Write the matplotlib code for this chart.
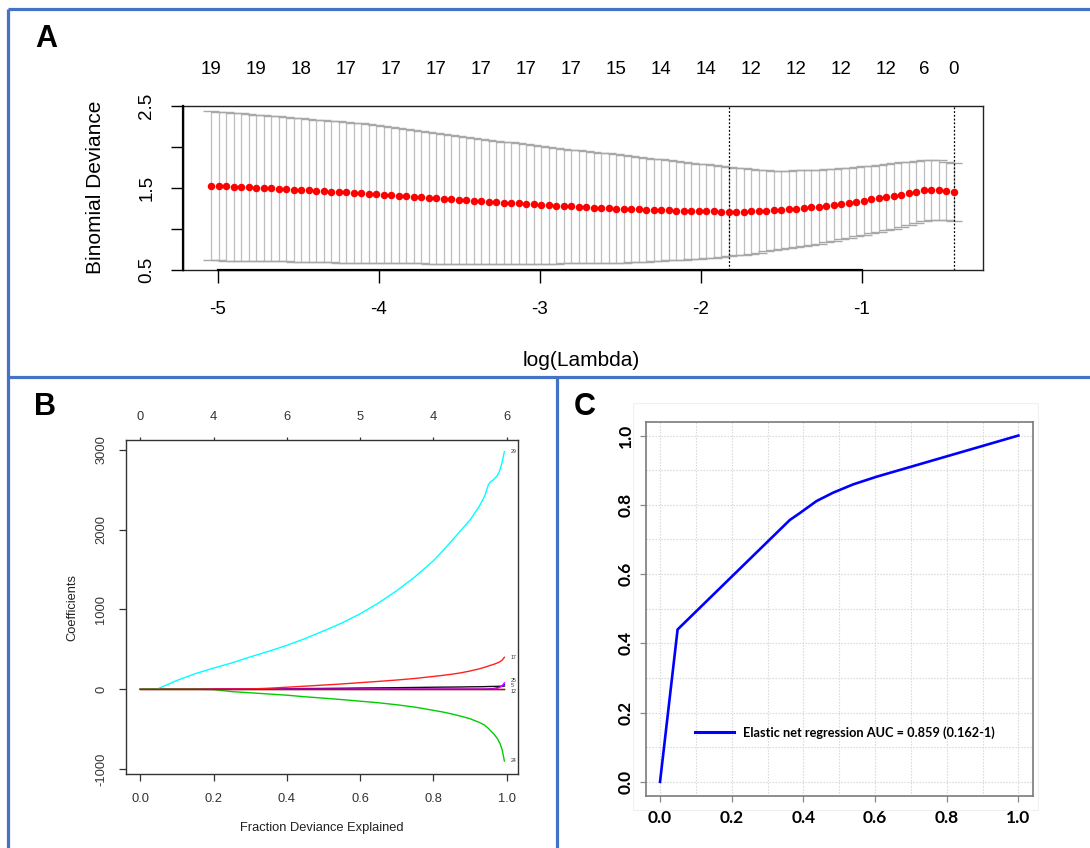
import numpy as np
import matplotlib
matplotlib.use("Agg")
import matplotlib.pyplot as plt
from matplotlib.patches import Rectangle
from matplotlib.lines import Line2D
import matplotlib.transforms as mtransforms

# ---------------- data: panel A (cv.glmnet) ----------------
log_lambda = np.linspace(-5.043, -0.429, 100)
cv_mean = [1.528, 1.524, 1.520, 1.516, 1.512, 1.508, 1.503, 1.499, 1.494, 1.490,
           1.485, 1.481, 1.476, 1.471, 1.466, 1.461, 1.456, 1.451, 1.446, 1.441,
           1.436, 1.430, 1.424, 1.418, 1.412, 1.405, 1.399, 1.392, 1.386, 1.379,
           1.373, 1.367, 1.361, 1.355, 1.349, 1.343, 1.338, 1.332, 1.327, 1.322,
           1.316, 1.311, 1.306, 1.300, 1.295, 1.290, 1.285, 1.280, 1.275, 1.271,
           1.266, 1.262, 1.258, 1.254, 1.250, 1.246, 1.243, 1.239, 1.236, 1.233,
           1.230, 1.227, 1.225, 1.222, 1.220, 1.218, 1.216, 1.214, 1.213, 1.211,
           1.212, 1.213, 1.215, 1.218, 1.222, 1.227, 1.233, 1.240, 1.247, 1.255,
           1.263, 1.272, 1.282, 1.293, 1.305, 1.318, 1.332, 1.346, 1.360, 1.374,
           1.389, 1.404, 1.420, 1.437, 1.453, 1.470, 1.477, 1.474, 1.462, 1.447]
cv_sd = [0.910, 0.908, 0.905, 0.902, 0.899, 0.896, 0.893, 0.890, 0.887, 0.884,
         0.881, 0.878, 0.875, 0.872, 0.869, 0.866, 0.863, 0.860, 0.857, 0.854,
         0.851, 0.846, 0.840, 0.834, 0.828, 0.822, 0.816, 0.810, 0.805, 0.800,
         0.794, 0.789, 0.783, 0.778, 0.772, 0.767, 0.761, 0.756, 0.750, 0.745,
         0.739, 0.734, 0.728, 0.723, 0.717, 0.712, 0.706, 0.700, 0.694, 0.689,
         0.683, 0.678, 0.672, 0.667, 0.661, 0.656, 0.650, 0.642, 0.634, 0.626,
         0.618, 0.611, 0.603, 0.595, 0.587, 0.580, 0.572, 0.563, 0.554, 0.545,
         0.535, 0.525, 0.515, 0.505, 0.495, 0.485, 0.479, 0.473, 0.467, 0.462,
         0.457, 0.451, 0.445, 0.439, 0.433, 0.427, 0.421, 0.417, 0.413, 0.409,
         0.405, 0.400, 0.393, 0.386, 0.378, 0.370, 0.366, 0.362, 0.358, 0.355]
nz_index = [0, 6, 12, 18, 24, 30, 36, 42, 48, 54, 60, 66, 72, 78, 84, 90, 95, 99]
nz_labels = ["19", "19", "18", "17", "17", "17", "17", "17", "17", "15",
             "14", "14", "12", "12", "12", "12", "6", "0"]
idx_min, idx_1se = 69, 99
a_xticks = [-5, -4, -3, -2, -1]
a_yticks = [0.5, 1.0, 1.5, 2.0, 2.5]
a_yticklabels = ["0.5", "", "1.5", "", "2.5"]

# ---------------- data: panel B (coefficient paths) ----------------
frac_dev = [0, 0.045, 0.1, 0.15, 0.2, 0.25, 0.3, 0.35, 0.4, 0.45,
            0.5, 0.55, 0.6, 0.65, 0.7, 0.75, 0.8, 0.825, 0.85, 0.875,
            0.9, 0.925, 0.94, 0.95, 0.955, 0.965, 0.975, 0.982, 0.988, 0.994]
coef_29 = [0, 0, 110, 195, 265, 330, 405, 475, 550, 635,
           730, 830, 945, 1080, 1235, 1410, 1610, 1730, 1860, 1990,
           2120, 2290, 2420, 2560, 2595, 2630, 2680, 2750, 2850, 2980]
coef_17 = [0, 0, 0, 0, 0, 0, 3, 12, 25, 38,
           52, 66, 82, 98, 115, 135, 160, 173, 188, 205,
           228, 255, 275, 290, 298, 312, 330, 345, 365, 400]
coef_24 = [0, 0, 0, 0, -5, -30, -45, -60, -75, -95,
           -112, -130, -150, -170, -195, -225, -265, -285, -310, -338,
           -370, -415, -450, -490, -515, -560, -620, -680, -760, -900]
coef_blk = [0, 0, 0, 0, 0, 0, 0, 2, 5, 8,
            10, 12, 15, 17, 19, 22, 25, 26, 27, 28,
            30, 31, 32, 34, 34, 35, 36, 37, 38, 40]
coef_blue = [0, 0, 0, 0, 0, 0, 0, 0, 0, 0,
             0, 0, 0, 0, 0, 0, 0, 0, 0, 0,
             0, 0, 0, 2, 4, 8, 18, 28, 42, 60]
coef_mag = [0, 0, 0, 0, 0, 0, 0, 0, 0, 0,
            0, 0, 0, 0, 0, 0, 0, 0, 0, 0,
            0, 0, 0, 0, 0, 3, 12, 25, 45, 80]
coef_zero = [0] * len(frac_dev)
b_top_ticks = [0.0, 0.2, 0.4, 0.6, 0.8, 1.0]
b_top_labels = ["0", "4", "6", "5", "4", "6"]
b_end_labels = ["29", "17", "24", "25", "5", "12"]
b_end_values = [2980, 400, -900, 115, 45, -25]

# ---------------- data: panel C (ROC) ----------------
fpr = [0.0, 0.049, 0.362, 0.390, 0.437, 0.483, 0.539, 0.604, 1.0]
tpr = [0.0, 0.440, 0.756, 0.776, 0.811, 0.835, 0.859, 0.881, 1.0]
roc_label = "Elastic net regression AUC = 0.859 (0.162-1)"
c_ticks = [0.0, 0.2, 0.4, 0.6, 0.8, 1.0]
c_grid = [0.0, 0.1, 0.2, 0.3, 0.4, 0.5, 0.6, 0.7, 0.8, 0.9, 1.0]

# ---------------- figure ----------------
W, H = 1090, 848
DPI = 100
fig = plt.figure(figsize=(W / DPI, H / DPI), dpi=DPI)
fig.patch.set_facecolor("white")
RS = "Liberation Sans"
BOLD = "Lato"


def rect(l, t, r, b):
    return [l / W, 1 - b / H, (r - l) / W, (b - t) / H]


# panel borders
blue = "#4472C4"
bw = 2.3
for (x0, y0, x1, y1) in [(8, 9, 1090, 9), (8, 9, 8, 848), (8, 377, 1090, 377), (557, 377, 557, 848)]:
    fig.add_artist(Line2D([x0 / W, x1 / W], [1 - y0 / H, 1 - y1 / H], color=blue, lw=bw,
                          transform=fig.transFigure, solid_capstyle="butt"))

# panel letters
for s, (px, py) in zip(["A", "B", "C"], [(46, 39), (45, 407), (585, 407)]):
    fig.text(px / W, 1 - py / H, s, fontsize=22, fontweight="bold", family="Liberation Sans",
             ha="center", va="center")

# ================= Panel A =================
axA = fig.add_axes(rect(183, 106, 983, 270))
x = np.asarray(log_lambda)
m = np.asarray(cv_mean)
sd = np.asarray(cv_sd)
up, lo = m + sd, m - sd
barw = (x.max() - x.min()) * 0.0105
axA.vlines(x, lo, up, color="#bdbdbd", lw=0.9, zorder=1)
axA.hlines(up, x - barw, x + barw, color="#a8a8a8", lw=1.0, zorder=1)
axA.hlines(lo, x - barw, x + barw, color="#a8a8a8", lw=1.0, zorder=1)
axA.plot(x, m, "o", color="#ff0000", ms=5.4, mec="none", zorder=3)
for i in (idx_min, idx_1se):
    axA.axvline(x[i], color="black", lw=0.9, ls=(0, (1.5, 1.5)), zorder=2)
axA.set_xlim(-5.217, -0.248)
axA.set_ylim(0.5, 2.5)
axA.set_xticks(a_xticks)
axA.set_xticklabels([str(v) for v in a_xticks])
axA.set_yticks(a_yticks)
axA.set_yticklabels(a_yticklabels)
axA.tick_params(axis="x", length=9, width=1, pad=13.5, labelsize=13.5)
axA.tick_params(axis="y", length=9, width=1, pad=11, labelsize=13.5, labelrotation=90)
for lab in axA.get_yticklabels():
    lab.set_va("center")
    lab.set_family(RS)
for lab in axA.get_xticklabels():
    lab.set_family(RS)
for sp in axA.spines.values():
    sp.set_linewidth(1.0)
    sp.set_color("#222222")
axA.plot([a_xticks[0], a_xticks[-1]], [0.5, 0.5], color="black", lw=1.6, clip_on=False, zorder=4)
axA.plot([axA.get_xlim()[0]] * 2, [0.5, 2.5], color="black", lw=1.6, clip_on=False, zorder=4)
trA = mtransforms.blended_transform_factory(axA.transData, axA.transAxes)
for i, s in zip(nz_index, nz_labels):
    axA.text(x[i], 1.2256, s, transform=trA, ha="center", va="center", fontsize=13.5, family=RS)
axA.set_xlabel("log(Lambda)", fontsize=15, family=RS)
axA.set_ylabel("Binomial Deviance", fontsize=15, family=RS)
axA.xaxis.set_label_coords(0.4975, -0.549)
axA.xaxis.label.set_va("center")
axA.yaxis.set_label_coords(-0.109, 0.506)
axA.yaxis.label.set_va("center")

# ================= Panel B =================
axB = fig.add_axes(rect(125.7, 440, 518.3, 774.3))
fd = np.asarray(frac_dev)
for ys, c in [(coef_zero, "#555555"), (coef_blk, "#111111"), (coef_blue, "#0000ff"),
              (coef_mag, "#ff00ff"), (coef_29, "#00ffff"), (coef_17, "#ff2020"),
              (coef_24, "#00cd00")]:
    axB.plot(fd, ys, color=c, lw=1.0)
axB.plot(fd, coef_zero, color="#dd0000", lw=1.0)
axB.set_xlim(-0.04, 1.032)
axB.set_ylim(-1067, 3125)
axB.set_xticks([0.0, 0.2, 0.4, 0.6, 0.8, 1.0])
axB.set_xticklabels(["0.0", "0.2", "0.4", "0.6", "0.8", "1.0"])
axB.set_yticks([-1000, 0, 1000, 2000, 3000])
axB.set_yticklabels(["-1000", "0", "1000", "2000", "3000"])
axB.tick_params(axis="x", length=5, width=0.9, pad=8.2, labelsize=9.3, colors="#333333")
axB.tick_params(axis="y", length=5, width=0.9, pad=8.2, labelsize=9.3, labelrotation=90, colors="#333333")
for lab in axB.get_yticklabels():
    lab.set_va("center")
for lab in axB.get_xticklabels() + axB.get_yticklabels():
    lab.set_family(RS)
for sp in axB.spines.values():
    sp.set_linewidth(1.0)
    sp.set_color("#333333")
secB = axB.secondary_xaxis("top")
secB.set_xticks(b_top_ticks)
secB.set_xticklabels(b_top_labels)
secB.tick_params(axis="x", length=2.5, width=0.9, pad=10, labelsize=9.3, colors="#333333")
for lab in secB.get_xticklabels():
    lab.set_family(RS)
secB.spines["top"].set_visible(False)
for s, v in zip(b_end_labels, b_end_values):
    axB.text(1.012, v, s, fontsize=3.8, ha="left", va="center", family=RS, color="#333333")
axB.set_xlabel("Fraction Deviance Explained", fontsize=9.3, family=RS, color="#222222")
axB.set_ylabel("Coefficients", fontsize=9.3, family=RS, color="#222222")
axB.xaxis.set_label_coords(0.5, -0.16)
axB.xaxis.label.set_va("center")
axB.yaxis.set_label_coords(-0.137, 0.5)
axB.yaxis.label.set_va("center")

# ================= Panel C =================
fig.add_artist(Rectangle((633 / W, 1 - 810 / H), (1038 - 633) / W, (810 - 403) / H,
                         transform=fig.transFigure, fill=False, ec="#f0f0f0", lw=0.8))
axC = fig.add_axes(rect(645.7, 421.7, 1032.7, 795.7))
for g in c_grid:
    axC.axvline(g, color="#d4d4d4", lw=0.8, ls=(0, (1.2, 1.5)), zorder=0)
    axC.axhline(g, color="#d4d4d4", lw=0.8, ls=(0, (1.2, 1.5)), zorder=0)
axC.plot(fpr, tpr, color="#0000ff", lw=1.9, label=roc_label, zorder=3)
axC.set_xlim(-0.04, 1.04)
axC.set_ylim(-0.04, 1.04)
axC.set_xticks(c_ticks)
axC.set_yticks(c_ticks)
axC.set_xticklabels(["%.1f" % v for v in c_ticks])
axC.set_yticklabels(["%.1f" % v for v in c_ticks])
axC.tick_params(axis="both", length=4, width=0.9, color="#888888", labelsize=12.5)
axC.tick_params(axis="x", pad=6)
axC.tick_params(axis="y", pad=4.5, labelrotation=90)
for lab in axC.get_yticklabels():
    lab.set_va("center")
for lab in axC.get_xticklabels() + axC.get_yticklabels():
    lab.set_family(BOLD)
    lab.set_fontweight("bold")
for sp in axC.spines.values():
    sp.set_linewidth(1.2)
    sp.set_color("#7a7a7a")
leg = axC.legend(loc="lower left", bbox_to_anchor=(0.115, 0.139), frameon=False,
                 handlelength=3.0, handletextpad=0.7, borderaxespad=0,
                 prop={"family": BOLD, "weight": "bold", "size": 9.2})
leg.get_lines()[0].set_linewidth(2.2)

fig.savefig("out.png", dpi=DPI, facecolor="white")
